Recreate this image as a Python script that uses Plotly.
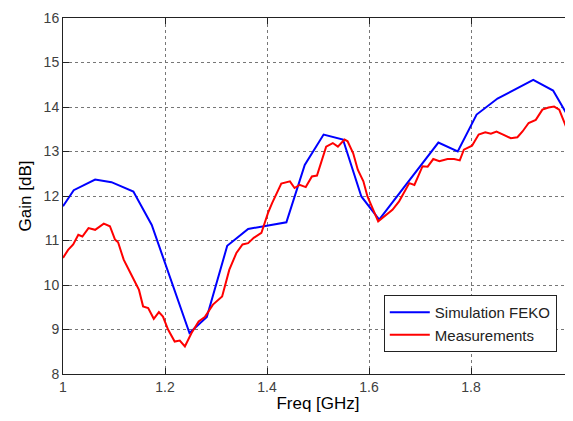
import plotly.graph_objects as go

# simulated gain (FEKO), piecewise
sim_freq = [1.0, 1.021, 1.063, 1.095, 1.138, 1.174, 1.248, 1.282, 1.322, 1.363,
            1.438, 1.474, 1.511, 1.549, 1.585, 1.620, 1.736, 1.774, 1.811, 1.852,
            1.922, 1.961, 2.0]
sim_gain = [11.77, 12.13, 12.37, 12.31, 12.10, 11.35, 8.92, 9.28, 10.88, 11.26,
            11.41, 12.70, 13.38, 13.27, 11.99, 11.47, 13.20, 13.00, 13.83, 14.19,
            14.61, 14.37, 13.60]

# measured gain
meas_freq = [1.0, 1.01, 1.02, 1.030, 1.038, 1.050, 1.063, 1.080, 1.092, 1.102,
             1.108, 1.119, 1.134, 1.149, 1.157, 1.167, 1.178, 1.188, 1.196, 1.206,
             1.219, 1.229, 1.239, 1.252, 1.266, 1.278, 1.294, 1.312, 1.326, 1.340,
             1.352, 1.363, 1.374, 1.389, 1.402, 1.410, 1.428, 1.445, 1.454, 1.464,
             1.476, 1.488, 1.498, 1.506, 1.516, 1.529, 1.539, 1.552, 1.558, 1.569,
             1.578, 1.589, 1.597, 1.618, 1.633, 1.646, 1.659, 1.663, 1.679, 1.689,
             1.705, 1.715, 1.726, 1.738, 1.754, 1.767, 1.778, 1.786, 1.802, 1.815,
             1.828, 1.839, 1.850, 1.863, 1.878, 1.891, 1.901, 1.913, 1.927, 1.940,
             1.952, 1.963, 1.973, 1.982, 2.0]
meas_gain = [10.61, 10.79, 10.91, 11.13, 11.09, 11.28, 11.24, 11.38, 11.32, 11.02,
             10.96, 10.57, 10.23, 9.89, 9.52, 9.48, 9.24, 9.39, 9.29, 9.00,
             8.73, 8.75, 8.62, 8.92, 9.18, 9.28, 9.56, 9.74, 10.34, 10.72,
             10.91, 10.94, 11.06, 11.17, 11.62, 11.84, 12.28, 12.33, 12.18, 12.25,
             12.20, 12.44, 12.46, 12.74, 13.11, 13.19, 13.11, 13.27, 13.23, 12.96,
             12.59, 12.33, 11.99, 11.43, 11.58, 11.69, 11.88, 11.96, 12.29, 12.25,
             12.67, 12.66, 12.83, 12.78, 12.83, 12.83, 12.80, 13.04, 13.13, 13.38,
             13.43, 13.40, 13.45, 13.38, 13.30, 13.32, 13.45, 13.64, 13.71, 13.94,
             13.99, 14.01, 13.94, 13.68, 13.18]

fig = go.Figure()
fig.add_trace(go.Scatter(x=sim_freq, y=sim_gain, mode="lines", name="Simulation FEKO",
                         line=dict(color="#0000ff", width=2)))
fig.add_trace(go.Scatter(x=meas_freq, y=meas_gain, mode="lines", name="Measurements",
                         line=dict(color="#ff0000", width=2)))

axis_style = dict(showline=True, linecolor="#222", linewidth=1, mirror="ticks",
                  ticks="inside", ticklen=6, tickcolor="#222",
                  showgrid=True, gridcolor="#777", griddash="dot", gridwidth=1,
                  zeroline=False, automargin=False, ticklabeloverflow="allow",
                  tickfont=dict(size=14, color="#404040"))

fig.update_xaxes(range=[1, 2], dtick=0.2, tickformat="~g",
                 title=dict(text="Freq [GHz]", font=dict(size=17, color="black"), standoff=9),
                 **axis_style)
fig.update_yaxes(range=[8, 16], dtick=1,
                 title=dict(text="Gain [dB]", font=dict(size=17, color="black"), standoff=7),
                 **axis_style)

# page body adds an 8px margin; keep the figure inside the window so no scrollbar appears
fig.update_layout(
    width=565, height=405,
    margin=dict(l=55, r=0, t=10, b=39),
    plot_bgcolor="white", paper_bgcolor="white",
    font=dict(family="Liberation Sans, Arial, sans-serif"),
    legend=dict(x=0.629, y=0.222, xanchor="left", yanchor="top",
                bgcolor="white", bordercolor="#222", borderwidth=1,
                itemwidth=40,
                font=dict(size=15, color="#222"), tracegroupgap=0),
    showlegend=True,
)

fig.write_html("out.html")
